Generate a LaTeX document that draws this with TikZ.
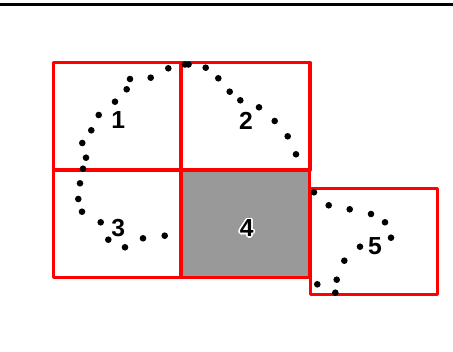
\documentclass[tikz,border=0pt]{standalone}
\usepackage{fontspec}
\setmainfont{Liberation Sans}
\definecolor{cellgray}{RGB}{153,153,153}
\tikzset{
  cell/.style={draw=red, line width=2.5pt, line join=round, inner sep=0pt,
    minimum width=#1*0.75pt, minimum height=107.5*0.75pt},
  lbl/.style={font=\fontsize{18.5}{18.5}\selectfont\bfseries, inner sep=0pt, text=black},
  halo/.style={font=\fontsize{18.5}{18.5}\selectfont\bfseries, inner sep=0pt, text=white},
  pt/.style={fill=black}
}
\begin{document}
\begin{tikzpicture}[x=0.75pt,y=-0.75pt]
\useasboundingbox (0,0) rectangle (453,352);
% top rule
\draw[line width=2.4pt, black] (0,4.5) -- (453,4.5);
% cells
\node[cell=127.5, fill=cellgray] (c4) at (245.5,224) {};
\node[cell=127.5] (c1) at (117.25,116.25) {};
\node[cell=129] (c2) at (245.5,116.25) {};
\node[cell=127.5] (c3) at (117.25,224) {};
\node[cell=127.5, minimum height=106*0.75pt] (c5) at (374,241.5) {};
% dots
\foreach \p in {(168.3,68.3),(185,64.5),(188.5,64.5),(150.7,77.7),(130,79),(126.7,89.3),
  (115,101.7),(98.7,115),(91.3,130.3),(82.3,143),(86,157.7),(83,168.7),
  (205.7,67.7),(218.3,78.3),(229.7,91.7),(240.3,100.3),(259,107.3),(274.7,121),
  (287.7,136.3),(296,154.3),
  (80,183.3),(78.3,199),(82,211.7),(100.7,222.3),(108.3,239.7),(125,247.3),
  (143,238.3),(164.7,235.7),
  (314,192.3),(328.7,205.3),(349.7,209.3),(371,214),(385,222.3),(391,237.7),
  (360,246.7),(344.3,260.7),(336.7,279.7),(317.3,284.3),(335.3,292.7)}
  \fill[pt] \p circle (3.3);
% labels
\node[lbl] (l1) at (118.3,120.5) {1};
\node[lbl] (l2) at (246,120.7) {2};
\node[lbl] (l3) at (118.3,228.3) {3};
\foreach \dx/\dy [count=\i] in {1.7/0,-1.7/0,0/1.7,0/-1.7,1.2/1.2,-1.2/1.2,1.2/-1.2,-1.2/-1.2}
  \node[halo] (h\i) at (246.7+\dx,228.3+\dy) {4};
\node[lbl] (l4) at (246.7,228.3) {4};
\node[lbl] (l5) at (375,246) {5};
\end{tikzpicture}
\end{document}
